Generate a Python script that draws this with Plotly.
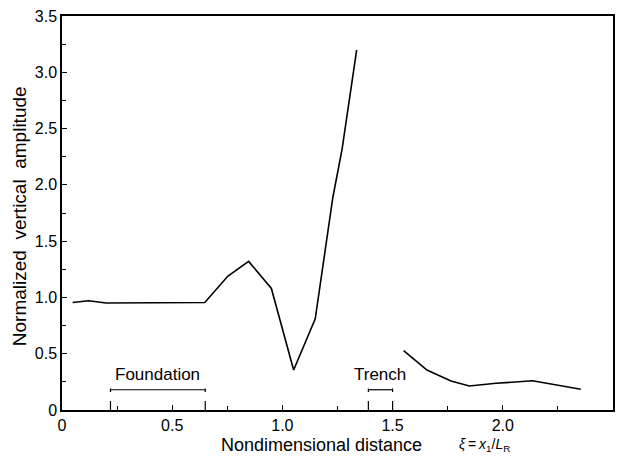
import plotly.graph_objects as go

# Data
x_left = [0.048, 0.12, 0.2, 0.3, 0.45, 0.648, 0.753, 0.847, 0.95, 1.051, 1.149, 1.229, 1.271, 1.319, 1.337]
y_left = [0.955, 0.97, 0.95, 0.95, 0.95, 0.955, 1.19, 1.32, 1.08, 0.355, 0.81, 1.89, 2.32, 2.95, 3.2]
x_right = [1.55, 1.656, 1.765, 1.848, 1.969, 2.135, 2.354]
y_right = [0.527, 0.355, 0.258, 0.213, 0.237, 0.26, 0.184]

foundation_range = [0.22, 0.65]
trench_range = [1.39, 1.5]
bracket_height = 0.18

x_ticks = [0, 0.5, 1.0, 1.5, 2.0, 2.5]
x_ticktext = ["0", "0.5", "1.0", "1.5", "2.0", "2.5"]
y_ticks = [0, 0.5, 1.0, 1.5, 2.0, 2.5, 3.0, 3.5]
y_ticktext = ["0", "0.5", "1.0", "1.5", "2.0", "2.5", "3.0", "3.5"]

FONT = "Liberation Sans"
NB = "\u00a0"
TS = "\u2009"
fig = go.Figure()
fig.add_trace(go.Scatter(x=x_left, y=y_left, mode="lines",
                         line=dict(color="black", width=1.6), showlegend=False))
fig.add_trace(go.Scatter(x=x_right, y=y_right, mode="lines",
                         line=dict(color="black", width=1.6), showlegend=False))

for rng, label in [(foundation_range, "Foundation"), (trench_range, "Trench")]:
    for xv in rng:
        fig.add_shape(type="line", x0=xv, x1=xv, y0=0, y1=bracket_height + 0.01,
                      line=dict(color="black", width=1.2, dash="dash"))
    fig.add_shape(type="line", x0=rng[0], x1=rng[1], y0=bracket_height, y1=bracket_height,
                  line=dict(color="black", width=1.2))
    fig.add_annotation(x=(rng[0] + rng[1]) / 2, y=bracket_height + 0.03, text=label,
                       showarrow=False, yanchor="bottom",
                       font=dict(family=FONT, size=17, color="black"))

# axis titles as annotations
fig.add_annotation(xref="paper", yref="paper", x=(219 - 62) / 551, y=-0.089,
                   text="Nondimensional" + NB + "distance",
                   showarrow=False, xanchor="left", yanchor="middle",
                   font=dict(family=FONT, size=18, color="black"))
fig.add_annotation(xref="paper", yref="paper", x=(457 - 62) / 551, y=-0.089,
                   text="<i>ξ</i>" + TS + "=" + TS + "<i>x</i><sub>1</sub>/<i>L</i><sub>R</sub>",
                   showarrow=False, xanchor="left", yanchor="middle",
                   font=dict(family=FONT, size=14, color="black"))
fig.add_annotation(xref="paper", yref="paper", x=-0.078, y=0.492,
                   text="Normalized" + NB * 2 + "vertical" + NB * 2 + "amplitude",
                   textangle=-90, showarrow=False, xanchor="center", yanchor="middle",
                   font=dict(family=FONT, size=19, color="black"))

fig.update_layout(
    width=624, height=457,
    margin=dict(l=62, r=11, t=16, b=47),
    paper_bgcolor="white", plot_bgcolor="white",
    font=dict(family=FONT, size=16, color="black"),
    xaxis=dict(range=[0, 2.5], tickvals=x_ticks, ticktext=x_ticktext, automargin=False,
               showgrid=False, zeroline=False, showline=True, linecolor="black",
               linewidth=1.5, mirror=True, ticks="inside", ticklen=5, tickcolor="black",
               minor=dict(dtick=0.25, ticks="inside", ticklen=4, tickcolor="black"),
               tickfont=dict(size=16)),
    yaxis=dict(range=[0, 3.5], tickvals=y_ticks, ticktext=y_ticktext, automargin=False,
               showgrid=False, zeroline=False, showline=True, linecolor="black",
               linewidth=1.5, mirror=True, ticks="inside", ticklen=5, tickcolor="black",
               minor=dict(dtick=0.25, ticks="inside", ticklen=4, tickcolor="black"),
               tickfont=dict(size=16)),
)

fig.write_html("out.html")
